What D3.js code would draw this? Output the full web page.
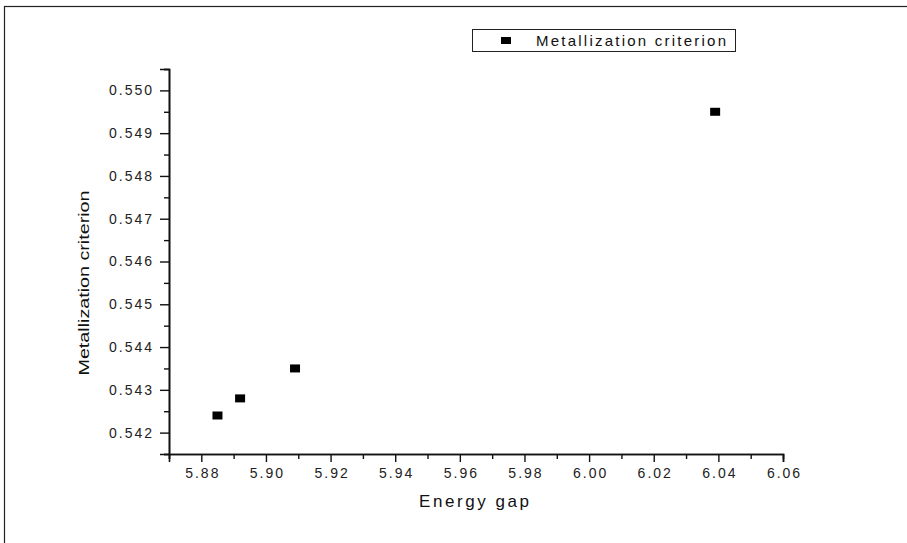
<!DOCTYPE html>
<html>
<head>
<meta charset="utf-8">
<script src="https://cdn.jsdelivr.net/npm/d3@7"></script>
<style>
  html, body { margin: 0; background: #fff; overflow: hidden; }
  svg { display: block; }
  svg text { font-family: "Liberation Sans", Arial, sans-serif; fill: #111; }
</style>
</head>
<body>
<svg width="907" height="543"></svg>
<script>
// data
var energyGap = [5.885, 5.892, 5.909, 6.039];
var metallization = [0.5424, 0.5428, 0.5435, 0.5495];
var xTicks = [5.88, 5.90, 5.92, 5.94, 5.96, 5.98, 6.00, 6.02, 6.04, 6.06];
var xMinor = [5.87, 5.89, 5.91, 5.93, 5.95, 5.97, 5.99, 6.01, 6.03, 6.05];
var yTicks = [0.542, 0.543, 0.544, 0.545, 0.546, 0.547, 0.548, 0.549, 0.550];
var yMinor = [0.5415, 0.5425, 0.5435, 0.5445, 0.5455, 0.5465, 0.5475, 0.5485, 0.5495, 0.5505];
var seriesName = "Metallization criterion";

var svg = d3.select("svg");

// outer frame (runs off right and bottom)
svg.append("rect")
    .attr("x", 4.5).attr("y", 6.5)
    .attr("width", 1000).attr("height", 1000)
    .attr("fill", "none").attr("stroke", "#222").attr("stroke-width", 1.2);

var xScale = d3.scaleLinear().domain([5.87, 6.06]).range([169, 783]);
var yScale = d3.scaleLinear().domain([0.5415, 0.5505]).range([454, 69]);

// x axis
var gx = svg.append("g").attr("transform", "translate(0,454)");
gx.append("g")
    .call(d3.axisBottom(xScale).tickValues(xMinor).tickSize(5).tickFormat(""));
gx.append("g")
    .call(d3.axisBottom(xScale).tickValues(xTicks).tickSize(8).tickPadding(6)
      .tickFormat(d3.format(".2f")));

// y axis
var gy = svg.append("g").attr("transform", "translate(169,0)");
gy.append("g")
    .call(d3.axisLeft(yScale).tickValues(yMinor).tickSize(5).tickFormat(""));
gy.append("g")
    .call(d3.axisLeft(yScale).tickValues(yTicks).tickSize(9).tickPadding(8)
      .tickFormat(d3.format(".3f")));

svg.selectAll(".domain").attr("stroke", "#111").attr("stroke-width", 1.6);
svg.selectAll(".tick line").attr("stroke", "#111").attr("stroke-width", 1.4);
svg.selectAll(".tick text")
    .style("font-size", "14px")
    .style("letter-spacing", "2px")
    .style("fill", "#222");
// letter-spacing leaves a trailing gap; nudge labels back
gx.selectAll(".tick text").attr("dx", "1px");
gy.selectAll(".tick text").attr("dx", "2px");

// axis titles
svg.append("text")
    .attr("x", 474).attr("y", 507)
    .attr("text-anchor", "middle")
    .attr("textLength", 110)
    .style("font-size", "17px")
    .text("Energy gap");

svg.append("text")
    .attr("transform", "translate(89,283) rotate(-90)")
    .attr("text-anchor", "middle")
    .attr("textLength", 185)
    .attr("lengthAdjust", "spacingAndGlyphs")
    .style("font-size", "15px")
    .text(seriesName);

// points
svg.selectAll(".pt")
    .data(energyGap)
    .enter().append("rect")
    .attr("class", "pt")
    .attr("x", function(d) { return xScale(d) - 5; })
    .attr("y", function(d, i) { return yScale(metallization[i]) - 4; })
    .attr("width", 10)
    .attr("height", 8)
    .attr("fill", "#000");

// legend
var lg = svg.append("g");
lg.append("rect")
    .attr("x", 472.5).attr("y", 29.5)
    .attr("width", 263).attr("height", 22)
    .attr("fill", "#fff").attr("stroke", "#222").attr("stroke-width", 1);
lg.append("rect")
    .attr("x", 501).attr("y", 37)
    .attr("width", 10).attr("height", 7)
    .attr("fill", "#000");
lg.append("text")
    .attr("x", 536).attr("y", 46)
    .attr("textLength", 190)
    .style("font-size", "15px")
    .text(seriesName);
</script>
</body>
</html>
